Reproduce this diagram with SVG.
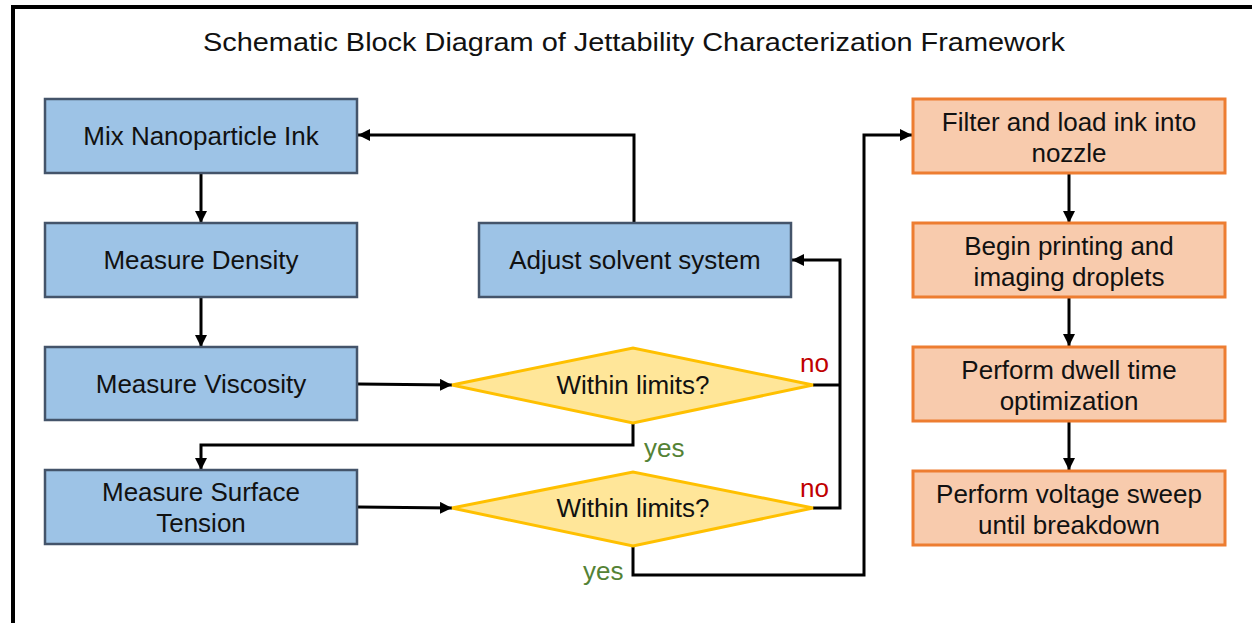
<svg xmlns="http://www.w3.org/2000/svg" width="1252" height="623" viewBox="0 0 1252 623">
  <defs>
    <marker id="arrow" markerUnits="userSpaceOnUse" markerWidth="14" markerHeight="12" refX="12" refY="6" orient="auto">
      <path d="M0,0 L12,6 L0,12 Z" fill="#000"/>
    </marker>
    <style>
      text { font-family: "Liberation Sans", Arial, sans-serif; font-size: 26px; fill: #111; text-anchor: middle; }
      .title { font-size: 26px; }
      .step { fill: #9DC3E6; stroke: #44546A; stroke-width: 2.5; }
      .print { fill: #F8CBAD; stroke: #ED7D31; stroke-width: 3; }
      .check { fill: #FFE699; stroke: #FFC000; stroke-width: 3; stroke-linejoin: miter; }
      .link { fill: none; stroke: #000; stroke-width: 3; }
      .no { fill: #C00000; text-anchor: start; }
      .yes { fill: #548235; text-anchor: start; }
    </style>
  </defs>

  <rect width="1252" height="623" fill="#fff"/>
  <!-- frame -->
  <path d="M13,623 V7 H1252" fill="none" stroke="#000" stroke-width="4"/>

  <text class="title" x="634" y="51" textLength="862" lengthAdjust="spacingAndGlyphs">Schematic Block Diagram of Jettability Characterization Framework</text>

  <!-- connectors -->
  <g id="connectors">
    <path class="link" d="M201,173 V223" marker-end="url(#arrow)"/>
    <path class="link" d="M201,297 V347" marker-end="url(#arrow)"/>
    <path class="link" d="M358,384 L452,385" marker-end="url(#arrow)"/>
    <path class="link" d="M633,423 V445 H201 V470" marker-end="url(#arrow)"/>
    <path class="link" d="M358,507 L452,508" marker-end="url(#arrow)"/>
    <path class="link" d="M813,385 H840"/>
    <path class="link" d="M813,508 H840 V260 H792" marker-end="url(#arrow)"/>
    <path class="link" d="M634,223 V135 H358" marker-end="url(#arrow)"/>
    <path class="link" d="M633,546 V575 H864 V135 H912" marker-end="url(#arrow)"/>
    <path class="link" d="M1069,173 V223" marker-end="url(#arrow)"/>
    <path class="link" d="M1069,297 V346" marker-end="url(#arrow)"/>
    <path class="link" d="M1069,421 V470" marker-end="url(#arrow)"/>
    <text class="no" x="800" y="372">no</text>
    <text class="no" x="800" y="497">no</text>
    <text class="yes" x="644" y="457">yes</text>
    <text class="yes" x="583" y="580">yes</text>
  </g>

  <!-- preparation steps -->
  <g id="mix">
    <rect class="step" x="45" y="99" width="312" height="74"/>
    <text x="201" y="145">Mix Nanoparticle Ink</text>
  </g>
  <g id="density">
    <rect class="step" x="45" y="223" width="312" height="74"/>
    <text x="201" y="269">Measure Density</text>
  </g>
  <g id="viscosity">
    <rect class="step" x="45" y="347" width="312" height="73"/>
    <text x="201" y="393">Measure Viscosity</text>
  </g>
  <g id="surface-tension">
    <rect class="step" x="45" y="470" width="312" height="74"/>
    <text x="201" y="501">Measure Surface</text>
    <text x="201" y="532">Tension</text>
  </g>
  <g id="adjust-solvent">
    <rect class="step" x="479" y="223" width="312" height="74"/>
    <text x="635" y="269">Adjust solvent system</text>
  </g>

  <!-- decisions -->
  <g id="check-viscosity">
    <polygon class="check" points="452,385 633,348 813,385 633,423"/>
    <text x="633" y="394">Within limits?</text>
  </g>
  <g id="check-surface-tension">
    <polygon class="check" points="452,508 633,472 813,508 633,546"/>
    <text x="633" y="517">Within limits?</text>
  </g>

  <!-- printing steps -->
  <g id="filter-load">
    <rect class="print" x="913" y="99" width="312" height="74"/>
    <text x="1069" y="131">Filter and load ink into</text>
    <text x="1069" y="162">nozzle</text>
  </g>
  <g id="begin-printing">
    <rect class="print" x="913" y="223" width="312" height="74"/>
    <text x="1069" y="255">Begin printing and</text>
    <text x="1069" y="286">imaging droplets</text>
  </g>
  <g id="dwell-time">
    <rect class="print" x="913" y="347" width="312" height="74"/>
    <text x="1069" y="379">Perform dwell time</text>
    <text x="1069" y="410">optimization</text>
  </g>
  <g id="voltage-sweep">
    <rect class="print" x="913" y="471" width="312" height="74"/>
    <text x="1069" y="503">Perform voltage sweep</text>
    <text x="1069" y="534">until breakdown</text>
  </g>
</svg>
